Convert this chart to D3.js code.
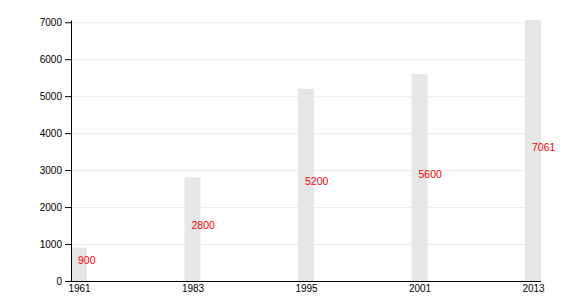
<!DOCTYPE html>
<html>
<head>
<meta charset="utf-8">
<script src="https://cdn.jsdelivr.net/npm/d3@7"></script>
<style>
  body { margin: 0; background: #fff; }
  svg text { font-family: "Liberation Sans", Arial, sans-serif; }
  .grid line { stroke: #ebebeb; }
  .grid .domain { display: none; }
</style>
</head>
<body>
<div id="canvas" class="canvas" style="width:580px;height:300px"></div>
<script>
var years = ['1961', '1983', '1995', '2001', '2013'];
var population = [900, 2800, 5200, 5600, 7061];
var yTicks = [0, 1000, 2000, 3000, 4000, 5000, 6000, 7000];

var m = {t:20, r:39, b:19, l:71},
    w = 580 - m.l - m.r,
    h = 300 - m.t - m.b;

var plot = d3.select('.canvas')
    .append('svg')
    .attr('width', w + m.l + m.r)
    .attr('height', h + m.t + m.b)
    .append('g')
    .attr('transform', 'translate(' + m.l + ',' + m.t + ')');

var barW = 16;

var x = d3.scalePoint()
    .domain(years)
    .range([barW/2, w - barW/2]);

var y = d3.scaleLinear()
    .domain([0, d3.max(population)])
    .range([h, 0]);

// horizontal grid
plot.append('g').attr('class', 'grid')
    .call(d3.axisLeft(y).tickValues(yTicks.slice(1)).tickSize(-w).tickFormat(''));

// bars
plot.selectAll('.bar')
    .data(population)
    .enter()
    .append('rect').attr('class', 'bar')
    .attr('x', function(d, i){ return x(years[i]) - barW/2; })
    .attr('y', function(d){ return y(d); })
    .attr('width', barW)
    .attr('height', function(d){ return h - y(d); })
    .style('fill', '#e6e6e6');

// value labels
plot.selectAll('.val')
    .data(population)
    .enter()
    .append('text').attr('class', 'val')
    .attr('x', function(d, i){ return x(years[i]) - 1; })
    .attr('y', function(d){ return y(d/2); })
    .style('fill', 'red')
    .style('font-size', '10.5px')
    .text(function(d){ return d; });

// axes
var yAxis = plot.append('g')
    .call(d3.axisLeft(y).tickValues(yTicks).tickFormat(d3.format('d')).tickSizeOuter(0));

var xAxis = plot.append('g')
    .attr('transform', 'translate(0,' + h + ')')
    .call(d3.axisBottom(x).tickSize(0).tickPadding(4));
xAxis.select('.domain').attr('d', 'M0,0.5H' + w);

plot.selectAll('.tick text').style('font-size', '10px').style('fill', '#000');
plot.selectAll('.domain').style('stroke', '#000');
</script>
</body>
</html>
